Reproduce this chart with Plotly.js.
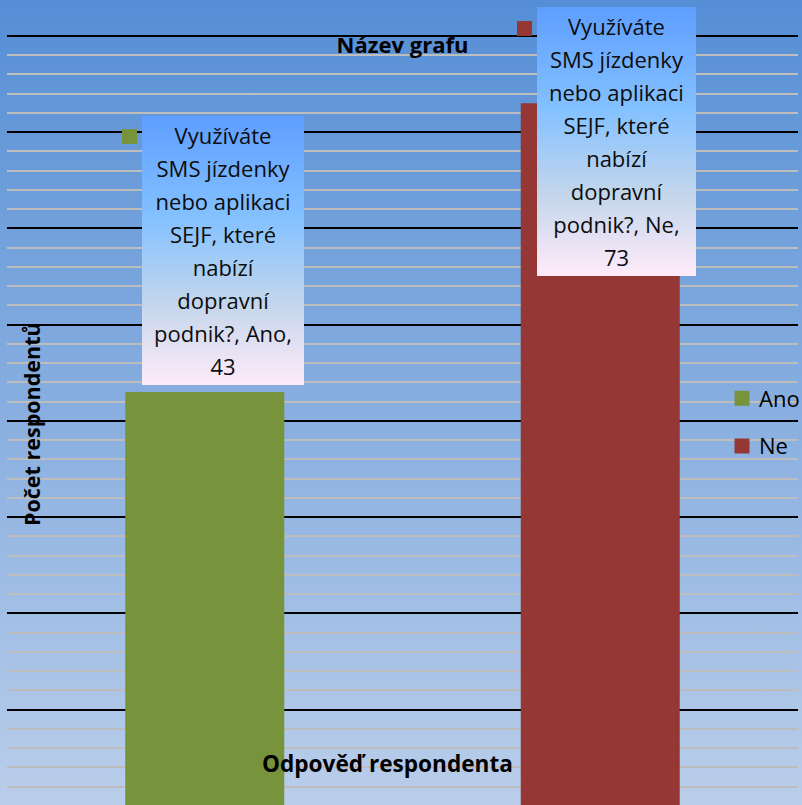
<!DOCTYPE html>
<html>
<head>
<meta charset="utf-8">
<script src="https://cdn.plot.ly/plotly-3.0.1.min.js"></script>
<style>
  html, body { margin: 0; padding: 0; }
  body { width: 802px; height: 805px; overflow: hidden;
         background: linear-gradient(to bottom, #558ED5 0%, #BACEEA 100%); }
  #chart { width: 802px; height: 805px; }
</style>
</head>
<body>
<div id="chart"></div>
<script>
// ---- data ----
const categories = ['Ano', 'Ne'];
const counts = [43, 73];
const barColors = ['#77933C', '#953735'];
const seriesNameLines = ['Využíváte', 'SMS jízdenky', 'nebo aplikaci', 'SEJF, které', 'nabízí', 'dopravní', 'podnik?,'];
const chartTitle = 'Název grafu';
const xTitle = 'Odpověď respondenta';
const yTitle = 'Počet respondentů';

// ---- layout constants ----
const W = 802, H = 805;
const M = { l: 7, r: 4, t: 31, b: 0 };
const yRange = [0.1, 80.5];
const pxPerUnit = (H - M.t - M.b) / (yRange[1] - yRange[0]);
const FONT = 'Open Sans, sans-serif';
const labelFont = 22, labelLineH = 33;
const boxH = 269, boxPad = 12, boxGap = 7, boxTopMin = 7;
const boxXShift = -63, keySize = 15, keyGap = 5, keyTop = 13;

const data = categories.map((c, i) => ({
  type: 'bar',
  x: [c],
  y: [counts[i]],
  name: c,
  legendgroup: c,
  width: [0.402],
  marker: { color: barColors[i], line: { width: 0 } },
  hoverinfo: 'skip',
  textposition: 'none'
}));

const annotations = [];
categories.forEach((c, i) => {
  const v = counts[i];
  const text = seriesNameLines.join('<br>') + ' ' + c + ',<br>' + v;
  const barTopPx = H - M.b - (v - yRange[0]) * pxPerUnit;
  const fits = barTopPx - boxGap - boxH >= boxTopMin;
  const paperTop = (H - M.b - boxTopMin) / (H - M.t - M.b);
  const base = fits
    ? { yref: 'y', y: v, yanchor: 'bottom', yshift: boxGap }
    : { yref: 'paper', y: paperTop, yanchor: 'top', yshift: 0 };
  annotations.push(Object.assign({
    xref: 'x', x: c, xanchor: 'left', xshift: boxXShift,
    text: text, showarrow: false, align: 'center', valign: 'middle',
    font: { family: FONT, size: labelFont, color: '#0d0d0d' },
    bgcolor: '#8fbff7', borderpad: boxPad, borderwidth: 0,
    height: boxH - 2 * boxPad, name: 'label'
  }, base));
  // legend key next to the label
  const keyBase = fits
    ? { yref: 'y', y: v, yanchor: 'top', yshift: boxGap + boxH - keyTop }
    : { yref: 'paper', y: paperTop, yanchor: 'top', yshift: -keyTop - 1 };
  annotations.push(Object.assign({
    xref: 'x', x: c, xanchor: 'right', xshift: boxXShift - keyGap,
    text: ' ', showarrow: false, font: { size: 2 },
    bgcolor: barColors[i], borderpad: 0, borderwidth: 0,
    width: keySize, height: keySize, name: 'key'
  }, keyBase));
});

// axis titles
annotations.push({
  xref: 'paper', yref: 'paper', x: (387 - M.l) / (W - M.l - M.r), y: (H - M.b - 763) / (H - M.t - M.b),
  xanchor: 'center', yanchor: 'middle', showarrow: false,
  text: xTitle, font: { family: FONT, size: 22.6, color: '#000', weight: 'bold' }
});
annotations.push({
  xref: 'paper', yref: 'paper', x: (31 - M.l) / (W - M.l - M.r), y: (H - M.b - 424) / (H - M.t - M.b),
  xanchor: 'center', yanchor: 'middle', showarrow: false, textangle: -90,
  text: yTitle, font: { family: FONT, size: 21.5, color: '#000', weight: 'bold' }
});

const layout = {
  width: W, height: H,
  margin: Object.assign({ autoexpand: false, pad: 0 }, M),
  paper_bgcolor: 'rgba(0,0,0,0)',
  plot_bgcolor: 'rgba(0,0,0,0)',
  barmode: 'overlay',
  showlegend: true,
  title: {
    text: chartTitle, x: 0.5, xref: 'paper', xanchor: 'center',
    y: 1 - 45 / H, yref: 'container', yanchor: 'middle',
    font: { family: FONT, size: 22, color: '#000', weight: 'bold' }
  },
  xaxis: {
    type: 'category', range: [-0.5, 1.5], showticklabels: false, ticks: '',
    showgrid: false, zeroline: false, showline: false, fixedrange: true
  },
  yaxis: {
    range: yRange, showticklabels: false, ticks: '', zeroline: false, showline: false,
    dtick: 10, tick0: 0, showgrid: true, gridcolor: '#000000', gridwidth: 2,
    minor: { dtick: 2, tick0: 0, showgrid: true, gridcolor: '#BDBDBD', gridwidth: 2 }
  },
  legend: {
    xref: 'paper', yref: 'paper', x: (719 - M.l) / (W - M.l - M.r), y: (H - M.b - 377.5) / (H - M.t - M.b),
    xanchor: 'left', yanchor: 'top', bgcolor: 'rgba(0,0,0,0)', borderwidth: 0,
    font: { family: FONT, size: 22, color: '#000' },
    traceorder: 'grouped', tracegroupgap: 16, itemwidth: 30
  },
  annotations: annotations
};

const gd = document.getElementById('chart');
Plotly.newPlot(gd, data, layout, { displayModeBar: false, staticPlot: true }).then(() => {
  // gradient fill for the data-label boxes (Excel "Daybreak")
  const svgNS = 'http://www.w3.org/2000/svg';
  const mainSvg = gd.querySelector('svg.main-svg');
  const defs = mainSvg.querySelector('defs') || mainSvg.appendChild(document.createElementNS(svgNS, 'defs'));
  const grad = document.createElementNS(svgNS, 'linearGradient');
  grad.setAttribute('id', 'labelGrad');
  grad.setAttribute('x1', '0'); grad.setAttribute('y1', '0');
  grad.setAttribute('x2', '0'); grad.setAttribute('y2', '1');
  [['0', '#5E9EFF'], ['0.39', '#85C2FF'], ['0.70', '#C4D6EB'], ['1', '#FFEBFA']].forEach(([o, c]) => {
    const s = document.createElementNS(svgNS, 'stop');
    s.setAttribute('offset', o); s.setAttribute('stop-color', c);
    grad.appendChild(s);
  });
  defs.appendChild(grad);

  gd.querySelectorAll('.annotation').forEach(g => {
    const idx = +g.getAttribute('data-index');
    const ann = gd._fullLayout.annotations[idx];
    if (!ann || ann.name !== 'label') return;
    const bg = g.querySelector('rect.bg');
    if (bg) { bg.style.fill = 'url(#labelGrad)'; bg.style.fillOpacity = 1; }
    const t = g.querySelector('text.annotation-text');
    t.removeAttribute('clip-path');
    t.style.clipPath = 'none';
    const lines = t.querySelectorAll('tspan.line');
    if (lines.length < 2) return;
    const fs = parseFloat(t.style.fontSize) || labelFont;
    const k = labelLineH / fs;
    const y0 = parseFloat(t.getAttribute('y'));
    const newY = y0 - (lines.length - 1) * (k - 1.3) * fs / 2;
    t.setAttribute('y', newY);
    lines.forEach((ln, i) => { ln.setAttribute('dy', (i * k) + 'em'); ln.setAttribute('y', newY); });
  });

  // legend symbols: 15px squares, nudged right
  gd.querySelectorAll('.legend .legendpoints path').forEach(p => {
    p.setAttribute('d', 'M10.5,7.5H-4.5V-7.5H10.5Z');
  });
});
</script>
</body>
</html>
